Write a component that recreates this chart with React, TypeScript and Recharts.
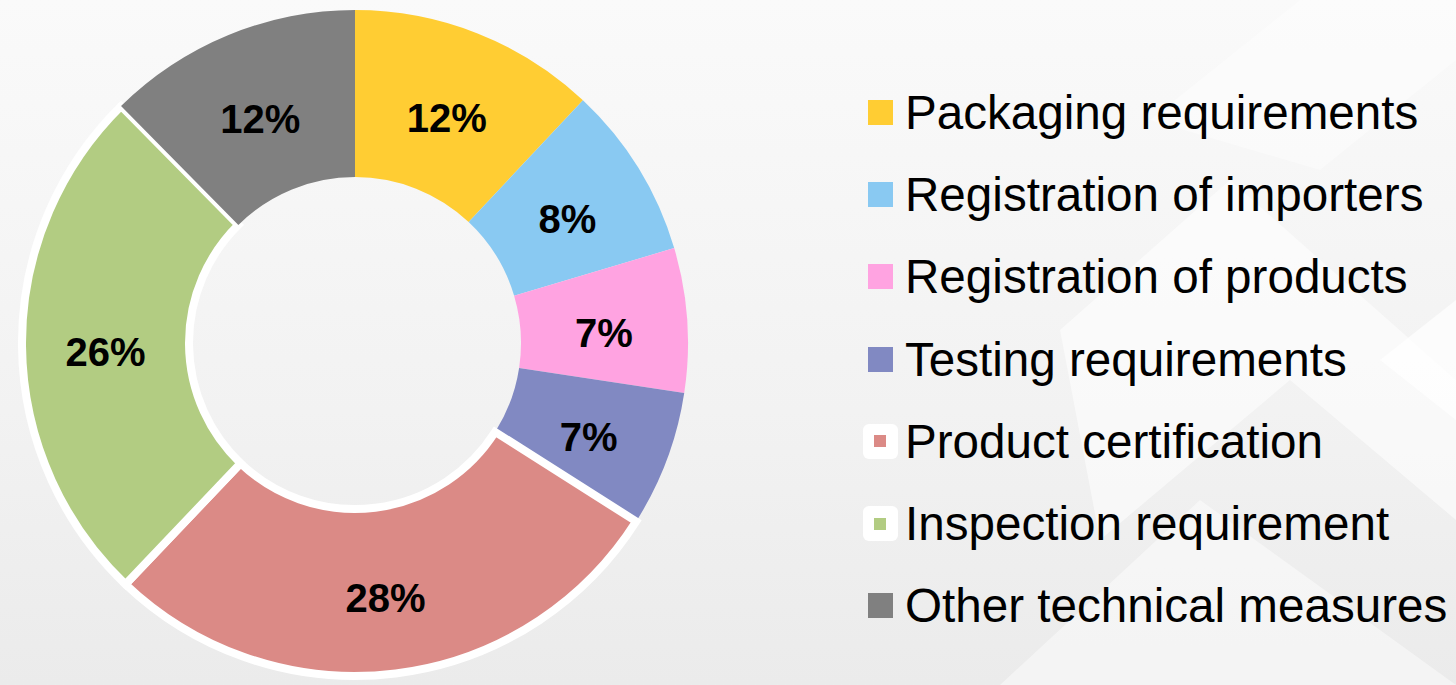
import React from 'react';
import { PieChart, Pie, Cell } from 'recharts';

// categories and shares (%)
const categories = [
  'Packaging requirements',
  'Registration of importers',
  'Registration of products',
  'Testing requirements',
  'Product certification',
  'Inspection requirement',
  'Other technical measures',
];
const shares = [12.0, 8.4, 7.0, 6.6, 28.1, 25.5, 12.4];
const colors = ['#ffcd33', '#89c9f2', '#ffa3e1', '#8189c2', '#db8a86', '#b2cc82', '#808080'];
// slices drawn with a white outline in the original
const outlined = [false, false, false, false, true, true, false];

const data = categories.map((name, i) => ({ name, value: shares[i] }));

const RAD = Math.PI / 180;

const renderLabel = (props: any) => {
  const { cx, cy, midAngle, innerRadius, outerRadius, percent } = props;
  const r = (innerRadius + outerRadius) / 2;
  const x = cx + r * Math.cos(-midAngle * RAD);
  const y = cy + r * Math.sin(-midAngle * RAD);
  return (
    <text
      x={x}
      y={y + 7}
      textAnchor="middle"
      dominantBaseline="central"
      fill="#000"
      fontFamily="'Liberation Sans', Arial, sans-serif"
      fontWeight="bold"
      fontSize={40}
    >
      {Math.round(percent * 100)}%
    </text>
  );
};

const LegendBox = () => (
  <div style={{ position: 'absolute', left: 862, top: 71, fontFamily: "'Liberation Sans', Arial, sans-serif" }}>
    {categories.map((name, i) => (
      <div key={name} style={{ display: 'flex', alignItems: 'center', height: 82.3 }}>
        <div style={{ width: 36, height: 36, display: 'flex', alignItems: 'center', justifyContent: 'center', marginRight: 7 }}>
          {outlined[i] ? (
            <div style={{ width: 35, height: 35, borderRadius: 6, background: '#fff', display: 'flex', alignItems: 'center', justifyContent: 'center' }}>
              <div style={{ width: 12, height: 12, background: colors[i] }} />
            </div>
          ) : (
            <div style={{ width: 25, height: 25, background: colors[i] }} />
          )}
        </div>
        <span style={{ fontSize: 47.6, color: '#000', whiteSpace: 'nowrap' }}>{name}</span>
      </div>
    ))}
  </div>
);

export default function App() {
  return (
    <div
      style={{
        position: 'fixed',
        left: 0,
        top: 0,
        width: 1456,
        height: 685,
        overflow: 'hidden',
        background: 'linear-gradient(180deg, #fafafa 0%, #f2f2f2 60%, #ebebeb 100%)',
      }}
    >
      <svg width={1456} height={685} style={{ position: 'absolute', left: 0, top: 0 }}>
        <polygon points="1060,330 1230,180 1456,380 1456,520 1290,380 1100,540" fill="#fff" opacity={0.55} />
        <polygon points="1150,120 1300,0 1456,0 1456,60 1320,170" fill="#fff" opacity={0.4} />
        <polygon points="1000,685 1200,500 1456,685" fill="#fff" opacity={0.45} />
        <polygon points="1380,360 1456,300 1456,420" fill="#fff" opacity={0.7} />
      </svg>
      <div style={{ position: 'absolute', left: 0, top: 0 }}>
        <PieChart width={720} height={685} margin={{ top: 0, right: 0, bottom: 0, left: 0 }}>
          <Pie
            data={data}
            dataKey="value"
            nameKey="name"
            cx={355}
            cy={343}
            innerRadius={166}
            outerRadius={333}
            startAngle={90}
            endAngle={-270}
            stroke="none"
            label={renderLabel}
            labelLine={false}
            isAnimationActive={false}
          >
            {data.map((d, i) => (
              <Cell
                key={d.name}
                fill={colors[i]}
                stroke={outlined[i] ? '#fff' : 'none'}
                strokeWidth={outlined[i] ? 8 : 0}
              />
            ))}
          </Pie>
        </PieChart>
      </div>
      <LegendBox />
    </div>
  );
}
